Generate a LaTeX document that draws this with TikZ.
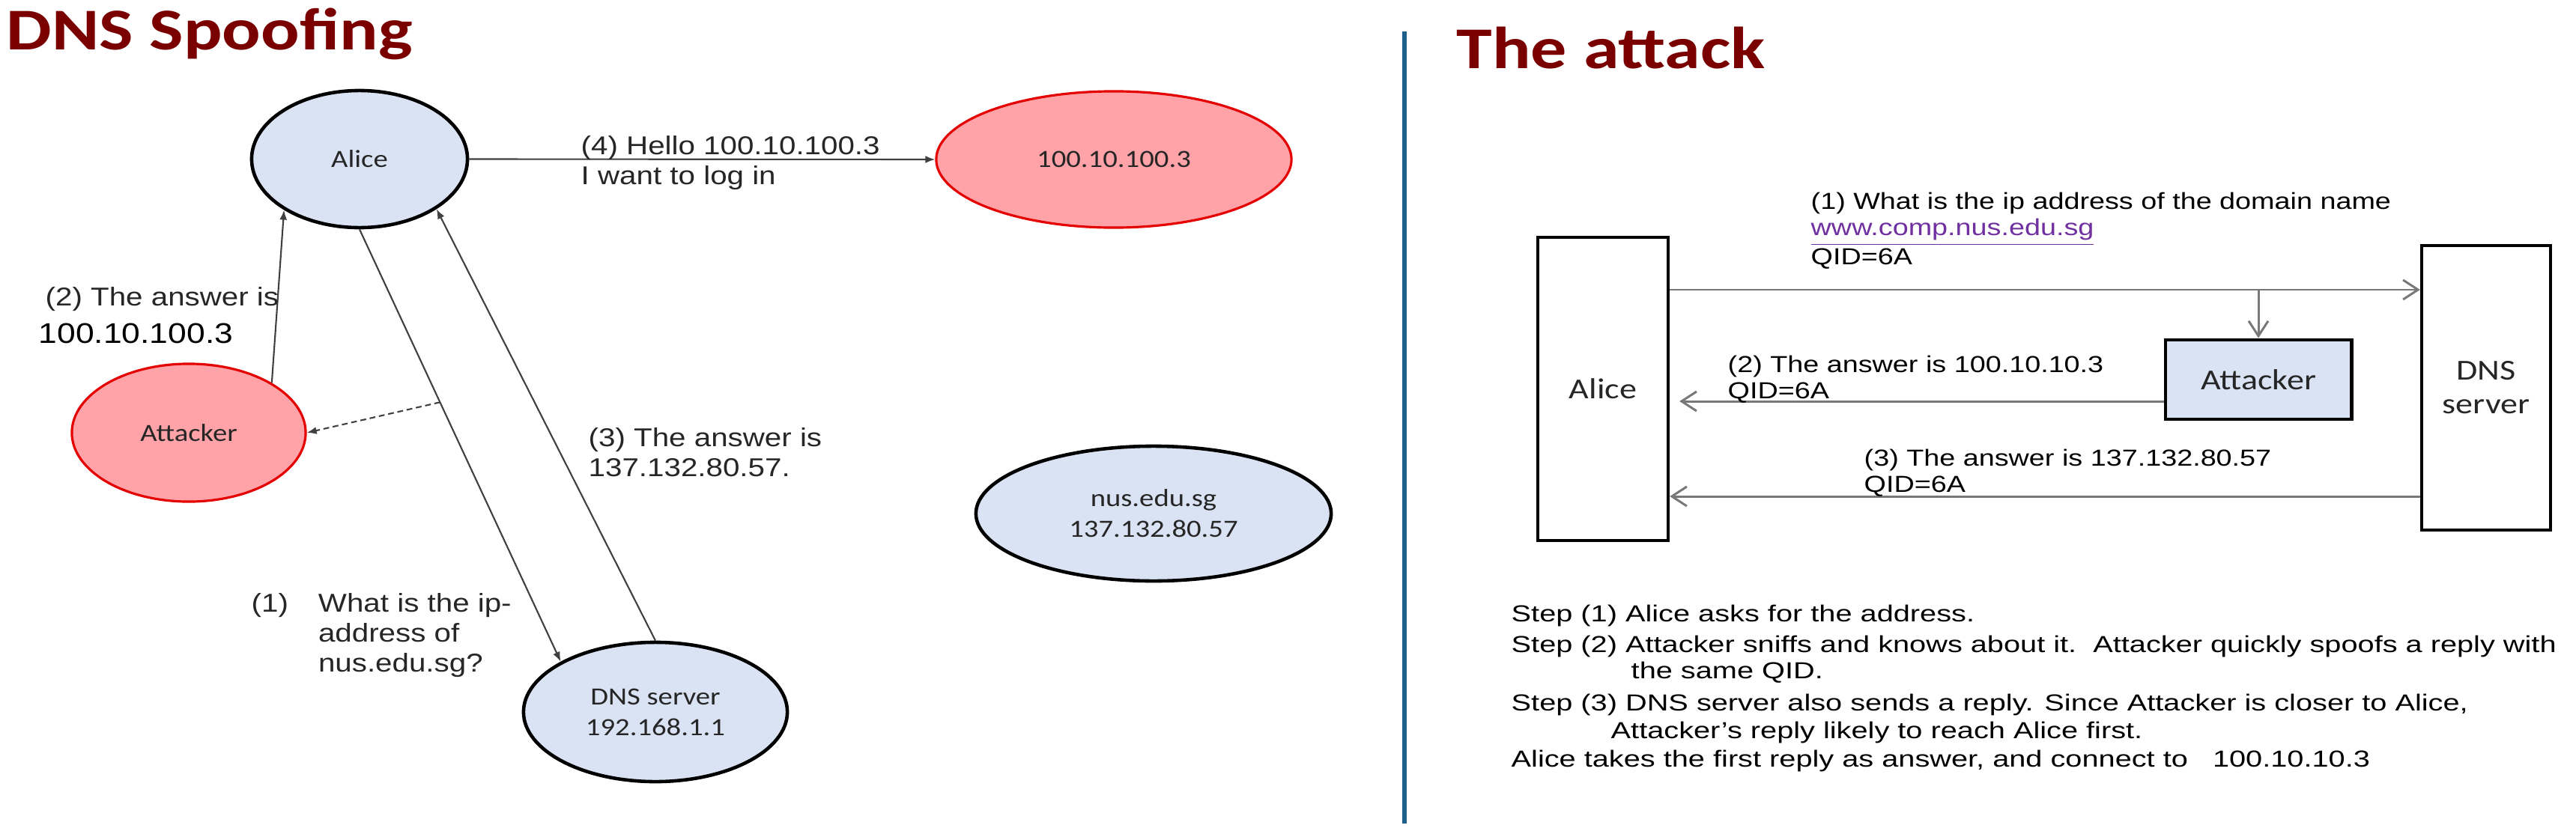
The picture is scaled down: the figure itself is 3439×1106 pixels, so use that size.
\documentclass[tikz,border=0pt]{standalone}
\usepackage{fontspec}
\usetikzlibrary{arrows.meta,shapes.geometric}
\newfontfamily\titlefont{Carlito}[FakeStretch=1.215]
\newfontfamily\lblLfont{Liberation Sans}[FakeStretch=1.17]
\newfontfamily\lblRfont{Liberation Sans}[FakeStretch=1.22]
\newfontfamily\stepfont{Liberation Sans}[FakeStretch=1.284]
\newfontfamily\calLfont{Carlito}[FakeStretch=1.17]
\newfontfamily\calRfont{Carlito}[FakeStretch=1.19]
\definecolor{nodeblue}{RGB}{218,227,243}
\definecolor{pinkfill}{RGB}{255,163,168}
\definecolor{redline}{RGB}{228,0,0}
\definecolor{titlered}{RGB}{122,0,0}
\definecolor{dividerblue}{RGB}{31,95,140}
\definecolor{linkpurple}{RGB}{112,48,160}
\definecolor{txtgray}{RGB}{38,38,38}
\definecolor{conngray}{RGB}{120,120,120}
\newcommand{\mystack}[1]{\begin{tabular}[t]{@{}l@{}}#1\end{tabular}}
\begin{document}
\begin{tikzpicture}[x=0.01cm,y=-0.01cm,
  titletext/.style={font=\titlefont\bfseries\fontsize{22.5pt}{27pt}\selectfont, text=titlered, anchor=base west, inner sep=0},
  lblL/.style={font=\lblLfont\fontsize{9.8pt}{11.4pt}\selectfont, text=txtgray, anchor=base west, inner sep=0},
  lblR/.style={font=\lblRfont\fontsize{8.8pt}{10.2pt}\selectfont, text=black, anchor=base west, inner sep=0},
  steptext/.style={font=\stepfont\fontsize{8.8pt}{10.5pt}\selectfont, text=black, anchor=base west, inner sep=0},
  blueell/.style={ellipse, draw=black, line width=1.3pt, fill=nodeblue, inner sep=0, font=\calLfont\fontsize{9.4pt}{11.7pt}\selectfont, text=txtgray, align=center},
  pinkell/.style={ellipse, draw=redline, line width=0.9pt, fill=pinkfill, inner sep=0, font=\calLfont\fontsize{9.4pt}{11.7pt}\selectfont, text=txtgray, align=center},
  lconn/.style={draw=black!75, line width=0.6pt, -{Latex[length=0.13cm,width=0.1cm]}},
  rbox/.style={rectangle, draw=black, line width=1.2pt, inner sep=0, font=\calRfont\fontsize{11pt}{12.8pt}\selectfont, text=txtgray, align=center},
  rconn/.style={draw=conngray, line width=0.85pt, -{Straight Barb[length=0.2cm,width=0.26cm]}}
]
\useasboundingbox (0,0) rectangle (3439,1106);
\fill[white] (0,0) rectangle (3439,1106);

% titles and divider
\node[titletext] (t1) at (8,67) {DNS Spoofing};
\node[titletext] (t2) at (1944,91) {The attack};
\draw[dividerblue, line width=1.6pt] (1875,42) -- (1875,1100);

% left panel nodes
\node[blueell, minimum width=2.88cm, minimum height=1.83cm] (alice) at (480,212.5) {Alice};
\node[pinkell, minimum width=4.74cm, minimum height=1.82cm] (fake) at (1487,213) {100.10.100.3};
\node[pinkell, minimum width=3.12cm, minimum height=1.84cm] (attacker) at (252,578) {Attacker};
\node[blueell, minimum width=3.52cm, minimum height=1.86cm] (dns) at (875,951) {DNS server\\192.168.1.1};
\node[blueell, minimum width=4.74cm, minimum height=1.80cm] (nus) at (1540,686) {nus.edu.sg\\137.132.80.57};

% left panel connectors
\draw[lconn] (alice.east) -- (fake.west);
\draw[lconn] (attacker.31) -- (alice.-146);
\draw[lconn] (alice.south) -- coordinate[pos=0.4] (sniff) (dns.152);
\draw[lconn] (dns.north) -- (alice.-33);
\draw[lconn, dash pattern=on 2.2pt off 1.4pt] (sniff) -- (attacker.east);

% left panel labels
\node[lblL] (l4) at (775,206.6) {\mystack{(4) Hello 100.10.100.3\\I want to log in}};
\node[lblL] (l2) at (60,408) {(2) The answer is};
\node[lblL, font=\lblLfont\fontsize{10.8pt}{12pt}\selectfont, text=black] (l2ip) at (51,458) {100.10.100.3};
\node[lblL] (l3) at (785,596) {\mystack{(3) The answer is\\137.132.80.57.}};
\node[lblL] (l1) at (335,817) {\begin{tabular}[t]{@{}l@{\hspace{0.4cm}}l@{}}(1) & What is the ip-\\ & address of\\ & nus.edu.sg?\end{tabular}};

% right panel nodes
\node[rbox, minimum width=1.74cm, minimum height=4.05cm] (abox) at (2140,519.5) {Alice};
\node[rbox, minimum width=1.72cm, minimum height=3.80cm] (dbox) at (3319,518) {DNS\\server};
\node[rbox, fill=nodeblue, line width=1.4pt, minimum width=2.48cm, minimum height=1.06cm] (attbox) at (3015,507) {Attacker};

% right panel connectors
\coordinate (y1) at (0,387);
\coordinate (y2) at (0,536);
\coordinate (y3) at (0,663);
\draw[rconn] (abox.east |- y1) -- (dbox.west |- y1);
\draw[rconn] (attbox.north |- y1) -- (attbox.north);
\draw[rconn, shorten >=0.13cm] (attbox.west |- y2) -- (abox.east |- y2);
\draw[rconn] (dbox.west |- y3) -- (abox.east |- y3);

% right panel labels
\node[lblR] (r1) at (2417,279) {\mystack{(1) What is the ip address of the domain name\\{\color{linkpurple}\underline{www.comp.nus.edu.sg}}\\QID=6A}};
\node[lblR] (r2) at (2306,497) {\mystack{(2) The answer is 100.10.10.3\\QID=6A}};
\node[lblR] (r3) at (2488,622) {\mystack{(3) The answer is 137.132.80.57\\QID=6A}};

% steps
\node[steptext] (s1) at (2017,830) {Step (1) Alice asks for the address.};
\node[steptext] (s2) at (2017,871) {Step (2) Attacker sniffs and knows about it.\ \ Attacker quickly spoofs a reply with};
\node[steptext] (s2b) at (2177,906) {the same QID.};
\node[steptext] (s3) at (2017,949) {Step (3) DNS server also sends a reply. Since Attacker is closer to Alice,};
\node[steptext] (s3b) at (2150,986) {Attacker’s reply likely to reach Alice first.};
\node[steptext] (s4) at (2017,1024) {Alice takes the first reply as answer, and connect to\ \ \ 100.10.10.3};
\end{tikzpicture}
\end{document}
